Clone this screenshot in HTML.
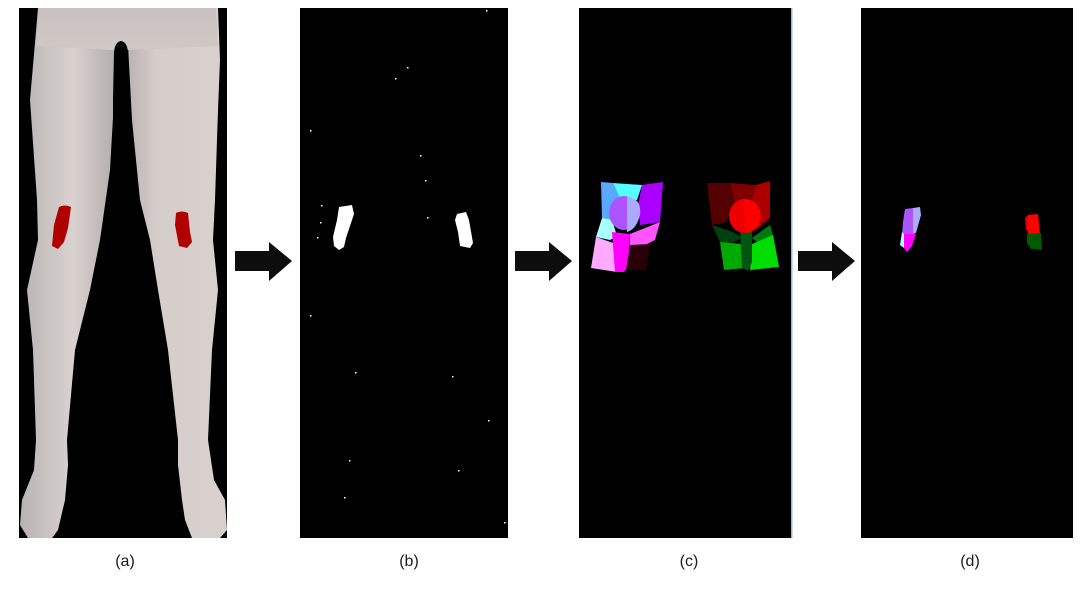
<!DOCTYPE html>
<html><head><meta charset="utf-8"><style>
html,body{margin:0;padding:0;background:#fff;}
svg{display:block;}
text{font-family:"Liberation Sans",sans-serif;font-size:16px;fill:#1a1a1a;}
</style></head><body>
<svg width="1088" height="594" viewBox="0 0 1088 594">
<defs>
<linearGradient id="skin" x1="0" x2="1" y1="0" y2="0">
<stop offset="0" stop-color="#b8b3b3"/><stop offset="0.5" stop-color="#d9d2cf"/><stop offset="1" stop-color="#a9a3a3"/>
</linearGradient>
<linearGradient id="skin2" x1="0" x2="1" y1="0" y2="0">
<stop offset="0" stop-color="#b0aaaa"/><stop offset="0.35" stop-color="#d5cdca"/><stop offset="1" stop-color="#d8d1ce"/>
</linearGradient>
<linearGradient id="pelv" x1="0" x2="0" y1="0" y2="1">
<stop offset="0" stop-color="#c9c1bf"/><stop offset="1" stop-color="#cfc8c5"/>
</linearGradient>
</defs>
<g>
<rect x="19" y="8" width="208" height="530" fill="#000"/>
<path fill="url(#skin)" d="M38 8 L126 8 L118 45 L114 100 L110 170 L100 240 L90 290 L75 350 L67 440 L68 465 L65 500 L58 530 L52 538 L28 538 L20 525 L22 500 L34 470 L36 440 L33 350 L27 290 L38 240 L37 200 L30 100 Z"/>
<path fill="url(#skin2)" d="M118 8 L218 8 L220 60 L218 110 L215 200 L213 240 L218 290 L212 350 L208 440 L214 480 L225 500 L227 530 L220 538 L192 538 L185 520 L182 500 L178 465 L178 440 L168 350 L158 290 L150 240 L140 200 L132 120 L128 45 Z"/>
<path fill="url(#pelv)" d="M40 8 L216 8 L218 46 L130 50 L112 50 L36 46 Z"/>
<path fill="#000" d="M114 52 Q115 42 121 41 Q127 42 128 52 L131 110 L128 140 L113 140 L113 100 Z"/>
<path fill="#b00000" d="M59 207 Q65 204 71 207 L68 228 L64 242 L58 249 L52 246 L54 225 Z"/>
<path fill="#b00000" d="M176 213 Q182 210 188 213 L190 232 L192 242 L187 248 L179 246 L175 225 Z"/>
</g>
<path fill="#0d0d0d" d="M235 251 L269 251 L269 242 L292 261 L269 281 L269 271 L235 271 Z"/>
<path fill="#0d0d0d" d="M515 251 L549 251 L549 242 L572 261 L549 281 L549 271 L515 271 Z"/>
<path fill="#0d0d0d" d="M798 251 L832 251 L832 242 L855 261 L832 281 L832 271 L798 271 Z"/>
<g>
<rect x="300" y="8" width="208" height="530" fill="#000"/>
<path fill="#fff" d="M339 207 L352 205 L354 214 L346 238 L344 247 L339 250 L334 246 L333 237 L337 220 Z"/>
<path fill="#fff" d="M457 214 L466 212 L469 220 L473 243 L470 248 L460 246 L458 232 L455 220 Z"/>
<g fill="#fff">
<rect x="321" y="205" width="1.5" height="1.5"/><rect x="320" y="222" width="1.5" height="1.5"/><rect x="317" y="237" width="1.5" height="1.5"/>
<rect x="427" y="217" width="1.5" height="1.5"/><rect x="407" y="67" width="1.5" height="1.5"/><rect x="310" y="130" width="1.5" height="1.5"/>
<rect x="420" y="155" width="1.5" height="1.5"/><rect x="486" y="10" width="1.5" height="1.5"/><rect x="355" y="372" width="1.5" height="1.5"/>
<rect x="452" y="376" width="1.5" height="1.5"/><rect x="349" y="460" width="1.5" height="1.5"/><rect x="488" y="420" width="1.5" height="1.5"/>
<rect x="310" y="315" width="1.5" height="1.5"/><rect x="458" y="470" width="1.5" height="1.5"/><rect x="344" y="497" width="1.5" height="1.5"/>
<rect x="504" y="522" width="1.5" height="1.5"/><rect x="425" y="180" width="1.5" height="1.5"/><rect x="395" y="78" width="1.5" height="1.5"/>
</g>
</g>
<g>
<rect x="579" y="8" width="213" height="530" fill="#000"/>
<rect x="791" y="8" width="1.5" height="530" fill="#8fb8e0"/>
<g>
<path fill="#5aa8ff" d="M601 182 L613 183 L622 203 L612 220 L608 220 L602 218 Z"/>
<path fill="#55ffff" d="M613 183 L642 185 L637 200 L622 203 Z"/>
<path fill="#aa00ff" d="M642 185 L663 182 L660 222 L640 225 L638 205 Z"/>
<path fill="#aaffff" d="M602 218 L612 220 L617 236 L610 240 L596 237 Z"/>
<path fill="#ffaaff" d="M596 237 L616 244 L617 272 L591 268 Z"/>
<path fill="#ff00ff" d="M612 232 L630 234 L628 266 L624 272 L615 272 Z"/>
<path fill="#ff55ff" d="M630 234 L660 222 L655 240 L645 245 L630 245 Z"/>
<path fill="#2a0008" d="M630 245 L650 244 L646 270 L626 270 Z"/>
<ellipse cx="624" cy="213" rx="15" ry="17" fill="#aa55ff"/>
<path fill="#aaaaff" d="M627 197 Q642 198 640 215 Q636 230 627 232 Z"/>
</g>
<g>
<path fill="#550000" d="M707 183 L730 183 L735 203 L726 222 L712 225 Z"/>
<path fill="#800000" d="M730 183 L756 185 L750 203 L735 203 Z"/>
<path fill="#aa0000" d="M756 185 L770 181 L770 218 L756 230 L750 205 Z"/>
<path fill="#003f10" d="M712 225 L733 232 L742 238 L730 244 L720 242 Z"/>
<path fill="#007a10" d="M752 238 L770 225 L773 235 L760 245 Z"/>
<path fill="#00aa00" d="M720 242 L742 244 L745 268 L724 270 Z"/>
<path fill="#00dd00" d="M752 244 L773 235 L779 267 L750 270 Z"/>
<path fill="#005510" d="M740 230 L752 230 L752 262 L748 271 L742 268 Z"/>
<ellipse cx="745" cy="216" rx="16" ry="17" fill="#ee0000"/>
<path fill="#ff0000" d="M743 199 Q760 200 760 216 Q757 232 746 233 Z"/>
</g>
</g>
<g>
<rect x="861" y="8" width="212" height="530" fill="#000"/>
<path fill="#aa55ff" d="M905 209 L913 208 L913 234 L902 234 L903 222 Z"/>
<path fill="#aaaaff" d="M913 208 L920 207 L921 215 L916 233 L913 234 Z"/>
<path fill="#ff00ff" d="M903 234 L916 234 L912 246 L907 252 L904 248 Z"/>
<path fill="#aaffff" d="M902 232 L904 234 L904 248 L900 245 Z"/>
<path fill="#dd0000" d="M1025 218 L1028 215 L1030 232 L1026 230 Z"/>
<path fill="#ff0000" d="M1028 215 L1038 214 L1040 234 L1028 234 Z"/>
<path fill="#005a00" d="M1027 234 L1041 233 L1042 250 L1031 249 L1027 243 Z"/>
</g>
<text x="125" y="566" text-anchor="middle">(a)</text>
<text x="409" y="566" text-anchor="middle">(b)</text>
<text x="689" y="566" text-anchor="middle">(c)</text>
<text x="970" y="566" text-anchor="middle">(d)</text>
</svg>
</body></html>
